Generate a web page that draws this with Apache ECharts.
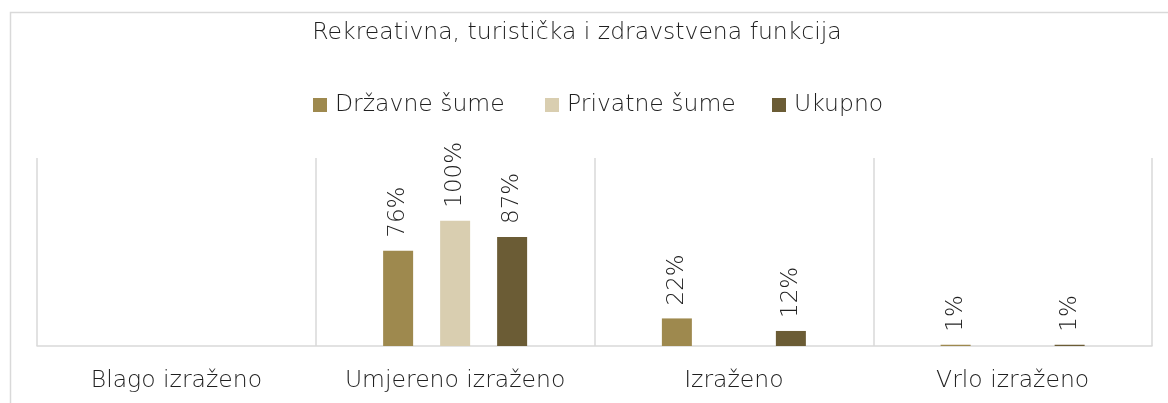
<!DOCTYPE html>
<html>
<head>
<meta charset="utf-8">
<script src="https://cdn.jsdelivr.net/npm/echarts@6/dist/echarts.min.js"></script>
<style>
  html, body { margin: 0; padding: 0; background: #ffffff; }
  #chart { width: 1168px; height: 403px; }
</style>
</head>
<body>
<div id="chart"></div>
<script>
// Categories (degree of expression) and the share per forest type, in percent
const categories = ['Blago izraženo', 'Umjereno izraženo', 'Izraženo', 'Vrlo izraženo'];
const seriesNames = ['Državne šume', 'Privatne šume', 'Ukupno'];
const drzavneSume = [0, 76, 22, 1];
const privatneSume = [0, 100, 0, 0];
const ukupno = [0, 87, 12, 1];
const titleText = 'Rekreativna, turistička i zdravstvena funkcija';

const colors = ['#9e894e', '#d9ceb0', '#6b5c35'];
const textColor = '#1f1f1f';
const lineColor = '#d9d9d9';
const fontFamily = '"DejaVu Sans", sans-serif';
const fontWeight = 200;
const fontSize = 23.5;

// horizontal start of each legend entry
const legendLefts = [313, 545, 772];

const chart = echarts.init(document.getElementById('chart'));

function makeSeries(name, data, color) {
  return {
    name: name,
    type: 'bar',
    data: data,
    barWidth: 30,
    barGap: '90%',
    itemStyle: { color: color },
    label: {
      show: true,
      position: 'top',
      distance: 13,
      rotate: 90,
      align: 'left',
      verticalAlign: 'middle',
      color: textColor,
      fontFamily: fontFamily,
      fontWeight: fontWeight,
      fontSize: 23,
      formatter: p => (p.value > 0 ? p.value + '%' : '')
    }
  };
}

function makeLegend(name, left) {
  return {
    top: 93,
    left: left,
    padding: 0,
    itemWidth: 14,
    itemHeight: 14,
    icon: 'rect',
    textStyle: { color: textColor, fontFamily: fontFamily, fontWeight: fontWeight, fontSize: fontSize, padding: [0, 0, 0, 3] },
    data: [name]
  };
}

chart.setOption({
  animation: false,
  color: colors,
  title: {
    text: titleText,
    left: 572,
    textAlign: 'center',
    top: 16,
    textStyle: { color: textColor, fontFamily: fontFamily, fontSize: fontSize, fontWeight: fontWeight }
  },
  legend: seriesNames.map((n, i) => makeLegend(n, legendLefts[i])),
  graphic: [{
    type: 'rect',
    left: 8,
    top: 10,
    shape: { width: 1300, height: 500 },
    style: { fill: 'none', stroke: lineColor, lineWidth: 1.5 },
    silent: true
  }],
  grid: { left: 37, right: 16, top: 158, bottom: 57 },
  xAxis: {
    type: 'category',
    data: categories,
    axisLine: { show: true, lineStyle: { color: lineColor, width: 1.5 } },
    axisTick: { show: false },
    splitLine: { show: true, interval: 0, lineStyle: { color: lineColor, width: 1.5 } },
    axisLabel: { color: textColor, fontFamily: fontFamily, fontWeight: fontWeight, fontSize: fontSize, margin: 23, interval: 0 }
  },
  yAxis: {
    type: 'value',
    min: 0,
    max: 150,
    show: false,
    splitLine: { show: false }
  },
  series: [
    makeSeries(seriesNames[0], drzavneSume, colors[0]),
    makeSeries(seriesNames[1], privatneSume, colors[1]),
    makeSeries(seriesNames[2], ukupno, colors[2])
  ]
});
</script>
</body>
</html>
